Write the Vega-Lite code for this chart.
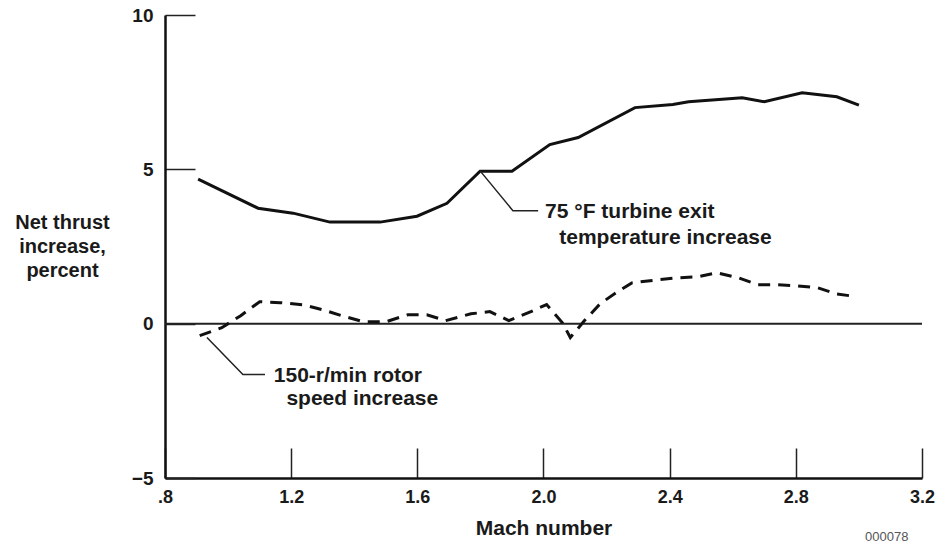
{
  "$schema": "https://vega.github.io/schema/vega-lite/v6.json",
  "width": 757,
  "height": 463,
  "autosize": {"type": "none"},
  "padding": {"left": 165, "top": 15, "right": 23, "bottom": 71},
  "background": "white",
  "config": {
    "font": "Liberation Sans",
    "view": {"stroke": null},
    "axis": {"grid": false}
  },
  "title": {
    "text": "000078",
    "orient": "bottom",
    "anchor": "end",
    "fontSize": 13,
    "fontWeight": "normal",
    "color": "#555555",
    "offset": -7,
    "dx": -26
  },
  "datasets": {
    "curves": [
      {"series": "temp", "mach": 0.905, "thrust": 4.68},
      {"series": "temp", "mach": 1.095, "thrust": 3.74},
      {"series": "temp", "mach": 1.206, "thrust": 3.58},
      {"series": "temp", "mach": 1.323, "thrust": 3.29},
      {"series": "temp", "mach": 1.482, "thrust": 3.29},
      {"series": "temp", "mach": 1.599, "thrust": 3.48},
      {"series": "temp", "mach": 1.694, "thrust": 3.9},
      {"series": "temp", "mach": 1.799, "thrust": 4.94},
      {"series": "temp", "mach": 1.9, "thrust": 4.94},
      {"series": "temp", "mach": 2.02, "thrust": 5.8},
      {"series": "temp", "mach": 2.11, "thrust": 6.03},
      {"series": "temp", "mach": 2.29, "thrust": 7.0},
      {"series": "temp", "mach": 2.41, "thrust": 7.1},
      {"series": "temp", "mach": 2.46, "thrust": 7.19},
      {"series": "temp", "mach": 2.63, "thrust": 7.32},
      {"series": "temp", "mach": 2.7, "thrust": 7.19},
      {"series": "temp", "mach": 2.82, "thrust": 7.48},
      {"series": "temp", "mach": 2.93, "thrust": 7.35},
      {"series": "temp", "mach": 3.0, "thrust": 7.08},
      {"series": "rotor", "mach": 0.91, "thrust": -0.39},
      {"series": "rotor", "mach": 0.98, "thrust": -0.13},
      {"series": "rotor", "mach": 1.04, "thrust": 0.26},
      {"series": "rotor", "mach": 1.1, "thrust": 0.71},
      {"series": "rotor", "mach": 1.165, "thrust": 0.68},
      {"series": "rotor", "mach": 1.24, "thrust": 0.61},
      {"series": "rotor", "mach": 1.3, "thrust": 0.45},
      {"series": "rotor", "mach": 1.36, "thrust": 0.26},
      {"series": "rotor", "mach": 1.43, "thrust": 0.06},
      {"series": "rotor", "mach": 1.5, "thrust": 0.06},
      {"series": "rotor", "mach": 1.57, "thrust": 0.29},
      {"series": "rotor", "mach": 1.63, "thrust": 0.29},
      {"series": "rotor", "mach": 1.69, "thrust": 0.1},
      {"series": "rotor", "mach": 1.77, "thrust": 0.32},
      {"series": "rotor", "mach": 1.83, "thrust": 0.39},
      {"series": "rotor", "mach": 1.89, "thrust": 0.1},
      {"series": "rotor", "mach": 1.96, "thrust": 0.39},
      {"series": "rotor", "mach": 2.01, "thrust": 0.62},
      {"series": "rotor", "mach": 2.06, "thrust": 0.03},
      {"series": "rotor", "mach": 2.085, "thrust": -0.45},
      {"series": "rotor", "mach": 2.13, "thrust": 0.1},
      {"series": "rotor", "mach": 2.18, "thrust": 0.65},
      {"series": "rotor", "mach": 2.23, "thrust": 1.0},
      {"series": "rotor", "mach": 2.28, "thrust": 1.32},
      {"series": "rotor", "mach": 2.36, "thrust": 1.42},
      {"series": "rotor", "mach": 2.42, "thrust": 1.48},
      {"series": "rotor", "mach": 2.49, "thrust": 1.52},
      {"series": "rotor", "mach": 2.55, "thrust": 1.65},
      {"series": "rotor", "mach": 2.62, "thrust": 1.48},
      {"series": "rotor", "mach": 2.68, "thrust": 1.26},
      {"series": "rotor", "mach": 2.74, "thrust": 1.26},
      {"series": "rotor", "mach": 2.8, "thrust": 1.23},
      {"series": "rotor", "mach": 2.87, "thrust": 1.16},
      {"series": "rotor", "mach": 2.93, "thrust": 0.96},
      {"series": "rotor", "mach": 2.99, "thrust": 0.88}
    ],
    "leaders": [
      {"grp": "temp", "ord": 1, "mach": 1.799, "thrust": 4.95},
      {"grp": "temp", "ord": 2, "mach": 1.903, "thrust": 3.66},
      {"grp": "temp", "ord": 3, "mach": 1.983, "thrust": 3.66},
      {"grp": "rotor", "ord": 1, "mach": 0.933, "thrust": -0.45},
      {"grp": "rotor", "ord": 2, "mach": 1.047, "thrust": -1.65},
      {"grp": "rotor", "ord": 3, "mach": 1.117, "thrust": -1.65}
    ],
    "labels": [
      {"mach": 2.005, "thrust": 3.62, "label": "75 °F turbine exit"},
      {"mach": 2.05, "thrust": 2.78, "label": "temperature increase"},
      {"mach": 1.145, "thrust": -1.68, "label": "150-r/min rotor"},
      {"mach": 1.185, "thrust": -2.43, "label": "speed increase"}
    ],
    "zero": [{"thrust": 0}]
  },
  "encoding": {
    "x": {
      "field": "mach",
      "type": "quantitative",
      "scale": {"domain": [0.8, 3.2], "nice": false, "zero": false},
      "axis": {
        "title": "Mach number",
        "values": [0.8, 1.2, 1.6, 2.0, 2.4, 2.8, 3.2],
        "labelExpr": "datum.value == 0.8 ? '.8' : format(datum.value, '.1f')",
        "labelFlush": false,
        "labelFontSize": 18,
        "labelFontWeight": "bold",
        "labelColor": "#1a1a1a",
        "labelBaseline": "top",
        "labelPadding": 40,
        "tickSize": -30,
        "tickColor": "#222222",
        "tickWidth": 1.5,
        "domainColor": "#111111",
        "domainWidth": 2.5,
        "titleFontSize": 21,
        "titleFontWeight": "bold",
        "titleColor": "#1a1a1a",
        "titleBaseline": "alphabetic",
        "titleY": 56
      }
    },
    "y": {
      "field": "thrust",
      "type": "quantitative",
      "scale": {"domain": [-5, 10], "nice": false, "zero": false},
      "axis": {
        "title": ["Net thrust", "increase,", "percent"],
        "titleAngle": 0,
        "titleAlign": "center",
        "titleBaseline": "alphabetic",
        "titleX": -103,
        "titleY": 213,
        "titleLineHeight": 24,
        "titleFontSize": 20,
        "titleFontWeight": "bold",
        "titleColor": "#1a1a1a",
        "values": [-5, 0, 5, 10],
        "labelFlush": false,
        "labelFontSize": 19,
        "labelFontWeight": "bold",
        "labelColor": "#1a1a1a",
        "labelPadding": 42,
        "tickSize": -30,
        "tickColor": "#222222",
        "tickWidth": 1.5,
        "domainColor": "#111111",
        "domainWidth": 2.5
      }
    }
  },
  "layer": [
    {
      "data": {"name": "zero"},
      "mark": {"type": "rule", "color": "#222222", "strokeWidth": 2},
      "encoding": {"x": null}
    },
    {
      "data": {"name": "curves"},
      "transform": [{"filter": "datum.series == 'temp'"}],
      "mark": {"type": "line", "color": "#111111", "strokeWidth": 3}
    },
    {
      "data": {"name": "curves"},
      "transform": [{"filter": "datum.series == 'rotor'"}],
      "mark": {"type": "line", "color": "#111111", "strokeWidth": 3, "strokeDash": [12, 8]}
    },
    {
      "data": {"name": "leaders"},
      "mark": {"type": "line", "color": "#222222", "strokeWidth": 1.5},
      "encoding": {
        "detail": {"field": "grp"},
        "order": {"field": "ord", "type": "quantitative"}
      }
    },
    {
      "data": {"name": "labels"},
      "mark": {"type": "text", "align": "left", "baseline": "middle", "fontSize": 21, "fontWeight": "bold", "color": "#1a1a1a"},
      "encoding": {"text": {"field": "label"}}
    }
  ]
}
